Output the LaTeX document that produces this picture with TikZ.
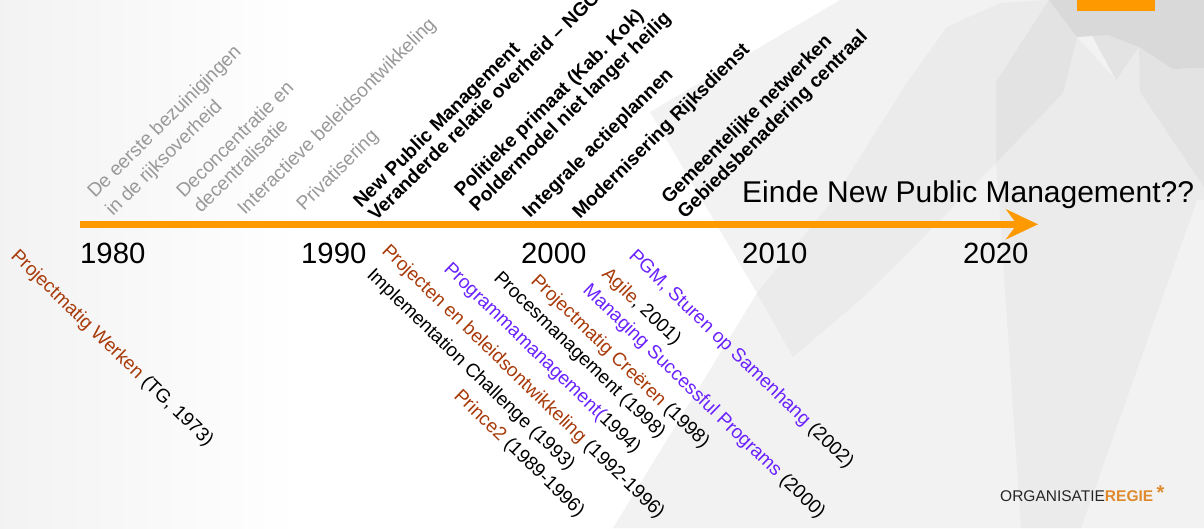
\documentclass[tikz,border=0pt]{standalone}
\usepackage{fontspec}
\setmainfont{Liberation Sans}
\usetikzlibrary{arrows.meta, positioning}
\definecolor{axisorange}{HTML}{FF9900}
\definecolor{rust}{HTML}{A83A0A}
\definecolor{violet}{HTML}{6A22FF}
\definecolor{softgrey}{HTML}{999999}
\definecolor{logoorange}{HTML}{E08A2E}
\tikzstyle{year} = [font=\fontsize{29.3}{29.3}\selectfont, anchor=base west, inner sep=0pt]
\tikzstyle{up} = [font=\fontsize{19.2}{19.2}\selectfont, rotate=44.8, anchor=base west, inner sep=0pt, text=softgrey]
\tikzstyle{upbold} = [font=\bfseries\fontsize{19.2}{19.2}\selectfont, rotate=44.8, anchor=base west, inner sep=0pt]
\tikzstyle{down} = [font=\fontsize{19}{19}\selectfont, rotate=-44, anchor=base west, inner sep=0pt]
\tikzstyle{arrow} = [line width=6.5pt, draw=axisorange, -{Stealth[length=32pt, width=30pt, inset=11pt]}]

\begin{document}
\begin{tikzpicture}[x=1pt, y=-1pt]
\useasboundingbox (0,0) rectangle (1204,528);
% background
\shade[left color=black!5, right color=white] (0,0) rectangle (300,528);
\fill[black!5] (650,112) -- (840,0) -- (1204,0) -- (1204,528) -- (613,528) -- (757,293) -- cycle;
\fill[black!8] (757,293) -- (833,200) -- (904,87) -- (947,27) -- (1000,3) -- (1049,0) -- (1077,37) -- (1063,93) -- (996,163) -- (904,257) -- (860,300) -- (793,357) -- cycle;
\fill[black!8] (996,163) -- (1063,93) -- (1077,37) -- (1116,80) -- (1139,47) -- (1140,92) -- (1204,187) -- (1204,200) -- (1197,200) -- (1081,528) -- (1021,528) -- (999,200) -- cycle;
\fill[black!11] (996,82) -- (1049,0) -- (1077,37) -- (1063,93) -- (996,163) -- cycle;
\fill[black!11] (1139,47) -- (1173,69) -- (1204,68) -- (1204,187) -- (1140,92) -- cycle;
\fill[black!11] (1082,17) -- (1116,80) -- (1139,47) -- cycle;
\fill[black!15] (1049,0) -- (1077,37) -- (1108,35) -- (1139,47) -- (1173,69) -- (1204,68) -- (1204,0) -- cycle;
\fill[axisorange] (1077,0) rectangle (1155,11);

\coordinate (axisstart) at (80,224.3);
\coordinate (axisend) at (1038,224.3);
\draw [arrow] (axisstart) -- (axisend);

\node (y1980) [year] at (80,263) {1980};
\node (y1990) [year] at (301,263) {1990};
\node (y2000) [year] at (521,263) {2000};
\node (y2010) [year] at (742,263) {2010};
\node (y2020) [year] at (963,263) {2020};
\node (einde) [anchor=base west, inner sep=0pt, font=\fontsize{30}{30}\selectfont] at (742,202) {Einde New Public Management??};

\node (bezuinig) [up] at (95,199) {De eerste bezuinigingen};
\node (rijk) [up] at (113,217) {in de rijksoverheid};
\node (deconc) [up] at (184,199) {Deconcentratie en};
\node (decentr) [up] at (201,214) {decentralisatie};
\node (interact) [up] at (245,216) {Interactieve beleidsontwikkeling};
\node (privat) [up] at (304,212) {Privatisering};

\node (npm) [upbold] at (361,209) {New Public Management};
\node (relatie) [upbold] at (376,222) {Veranderde relatie overheid -- NGO};
\node (primaat) [upbold] at (462,198) {Politieke primaat (Kab. Kok)};
\node (polder) [upbold] at (477,213) {Poldermodel niet langer heilig};
\node (integraal) [upbold] at (530,219) {Integrale actieplannen};
\node (modern) [upbold] at (580,220) {Modernisering Rijksdienst};
\node (netwerk) [upbold] at (669,205) {Gemeentelijke netwerken};
\node (gebied) [upbold] at (685,220) {Gebiedsbenadering centraal};

\node (werken) [down] at (10,257) {\textcolor{rust}{Projectmatig Werken} (TG, 1973)};
\node (implem) [down] at (366,276) {Implementation Challenge (1993)};
\node (beleid) [down] at (381,252) {\textcolor{rust}{Projecten en beleidsontwikkeling} (1992-1996)};
\node (prince) [down] at (453,397) {\textcolor{rust}{Prince2} (1989-1996)};
\node (program) [down] at (443,270) {\textcolor{violet}{Programmamanagement(}1994)};
\node (proces) [down] at (493,279) {Procesmanagement (1998)};
\node (creeren) [down] at (530,282) {\textcolor{rust}{Projectmatig Creëren} (1998)};
\node (agile) [down] at (601,275) {\textcolor{rust}{Agile}, 2001)};
\node (msp) [down] at (582,291) {\textcolor{violet}{Managing Successful Programs} (2000)};
\node (pgm) [down] at (628,257) {\textcolor{violet}{PGM, Sturen op Samenhang} (2002)};

\node (logo) [anchor=base west, inner sep=0pt, font=\fontsize{15.5}{15.5}\selectfont] at (1000,501) {\textcolor{black!85}{ORGANISATIE}\textcolor{logoorange}{\textbf{REGIE}}};
\node (logostar) [right=3pt of logo.north east, anchor=west, yshift=-3pt, inner sep=0pt, text=logoorange, font=\bfseries\fontsize{20}{20}\selectfont] {*};
\end{tikzpicture}
\end{document}
